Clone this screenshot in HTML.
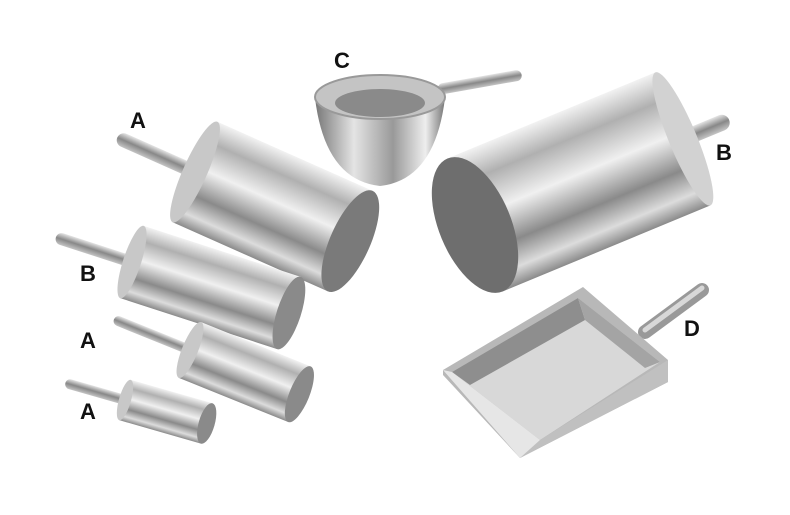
<!DOCTYPE html>
<html><head><meta charset="utf-8"><style>
html,body{margin:0;padding:0;background:#fff;width:790px;height:515px;overflow:hidden}
svg{display:block}
text{font-family:"Liberation Sans",Arial,sans-serif;font-weight:bold;font-size:22px;fill:#111}
</style></head><body>
<svg width="790" height="515" viewBox="0 0 790 515">
<defs>
<linearGradient id="m" x1="0" y1="0" x2="0" y2="1">
<stop offset="0" stop-color="#f2f2f2"/><stop offset="0.2" stop-color="#b0b0b0"/><stop offset="0.45" stop-color="#f0f0f0"/><stop offset="0.7" stop-color="#8a8a8a"/><stop offset="0.88" stop-color="#dcdcdc"/><stop offset="1" stop-color="#8a8a8a"/>
</linearGradient>
<linearGradient id="m2" x1="0" y1="0" x2="1" y2="0">
<stop offset="0" stop-color="#777"/><stop offset="0.3" stop-color="#e4e4e4"/><stop offset="0.6" stop-color="#999"/><stop offset="0.85" stop-color="#eee"/><stop offset="1" stop-color="#777"/>
</linearGradient>
<linearGradient id="h" x1="0" y1="0" x2="0" y2="1">
<stop offset="0" stop-color="#e4e4e4"/><stop offset="0.5" stop-color="#888"/><stop offset="1" stop-color="#c4c4c4"/>
</linearGradient>
</defs>

<g transform="translate(195,172) rotate(24)">
<rect x="-85" y="-7" width="90" height="14" rx="7" fill="url(#h)"/>
<rect x="0" y="-55" width="170" height="110" fill="url(#m)"/>
<ellipse cx="0" cy="0" rx="12" ry="55" fill="#c8c8c8"/>
<ellipse cx="170" cy="0" rx="20" ry="55" fill="#7a7a7a"/>
</g>
<rect x="438" y="84" width="85" height="11" rx="5.5" fill="url(#h)" transform="rotate(-10 438 90)"/>
<path d="M315 98 Q325 180 380 186 Q435 180 445 98 Z" fill="url(#m2)"/>
<ellipse cx="380" cy="97" rx="65" ry="22" fill="#c4c4c4" stroke="#999" stroke-width="2"/>
<ellipse cx="380" cy="103" rx="45" ry="14" fill="#8a8a8a"/>
<g transform="translate(475,225) rotate(-22.5)">
<rect x="200" y="-8" width="75" height="16" rx="8" fill="url(#h)"/>
<rect x="0" y="-72" width="225" height="144" fill="url(#m)"/>
<ellipse cx="0" cy="0" rx="36" ry="72" fill="#6e6e6e"/>
<ellipse cx="225" cy="0" rx="14" ry="72" fill="#d2d2d2"/>
</g>
<g transform="translate(132,262) rotate(18)">
<rect x="-80" y="-6" width="85" height="12" rx="6" fill="url(#h)"/>
<rect x="0" y="-38" width="165" height="76" fill="url(#m)"/>
<ellipse cx="0" cy="0" rx="9" ry="38" fill="#c8c8c8"/>
<ellipse cx="165" cy="0" rx="12" ry="38" fill="#8a8a8a"/>
</g>
<g transform="translate(190,350) rotate(22)">
<rect x="-82" y="-5" width="85" height="10" rx="5" fill="url(#h)"/>
<rect x="0" y="-30" width="118" height="60" fill="url(#m)"/>
<ellipse cx="0" cy="0" rx="8" ry="30" fill="#c8c8c8"/>
<ellipse cx="118" cy="0" rx="10" ry="30" fill="#8a8a8a"/>
</g>
<g transform="translate(125,400) rotate(16)">
<rect x="-62" y="-5" width="65" height="10" rx="5" fill="url(#h)"/>
<rect x="0" y="-21" width="85" height="42" fill="url(#m)"/>
<ellipse cx="0" cy="0" rx="6" ry="21" fill="#c8c8c8"/>
<ellipse cx="85" cy="0" rx="8" ry="21" fill="#8a8a8a"/>
</g>
<line x1="645" y1="332" x2="702" y2="290" stroke="#999" stroke-width="14" stroke-linecap="round"/>
<line x1="645" y1="330" x2="702" y2="288" stroke="#d8d8d8" stroke-width="5" stroke-linecap="round"/>
<polygon points="443,370 583,287 668,360 668,382 520,458 443,375" fill="#b8b8b8"/>
<polygon points="452,372 578,298 660,362 540,440" fill="#d8d8d8"/>
<polygon points="452,372 578,298 585,320 470,385" fill="#8e8e8e"/>
<polygon points="578,298 660,362 645,368 585,320" fill="#a4a4a4"/>
<polygon points="520,458 668,382 668,360 540,440" fill="#c0c0c0"/>
<polygon points="443,370 520,458 540,440 452,372" fill="#e6e6e6"/>

<text x="130" y="128">A</text>
<text x="334" y="68">C</text>
<text x="716" y="160">B</text>
<text x="80" y="281">B</text>
<text x="80" y="348">A</text>
<text x="684" y="336">D</text>
<text x="80" y="419">A</text>
</svg>
</body></html>
